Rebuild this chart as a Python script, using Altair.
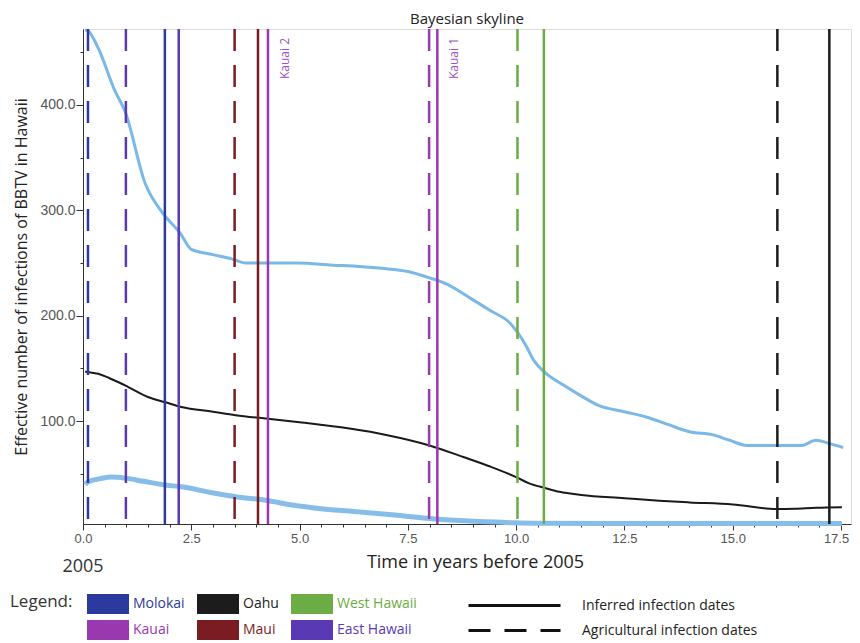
import altair as alt
import pandas as pd

# ---- data ----
t_upper = [0.05, 0.12, 0.35, 0.74, 0.97, 1.44, 1.81, 2.25, 2.5, 3.0, 3.43, 3.76, 4.5, 5.0, 5.76, 6.3, 6.9,
           7.5, 8.0, 8.4, 8.93, 9.4, 9.86, 10.25, 10.4, 10.67, 11.1, 11.5, 11.9, 12.5, 13.0, 13.5, 14.0,
           14.55, 14.92, 15.33, 16.03, 16.6, 16.92, 17.22, 17.55]
v_upper = [471, 470, 454, 413, 394, 325, 299, 278, 263, 258, 254, 250, 250, 250, 248, 247, 245,
           242, 236, 230, 217, 205, 193, 170, 158, 146, 134, 124, 115, 109, 104, 97, 90,
           87, 82, 77, 77, 77, 82, 79, 75]

t_median = [0.05, 0.12, 0.35, 0.6, 0.97, 1.5, 1.9, 2.27, 3.0, 3.52, 4.22, 5.0, 6.15, 7.0, 8.0, 8.78,
            9.4, 10.0, 10.3, 10.67, 11.0, 11.5, 12.5, 13.3, 14.0, 15.0, 16.0, 16.43, 16.92, 17.52]
v_median = [147, 146.6, 145, 141, 134, 123, 118, 113.5, 109, 105.7, 102.5, 99, 93, 87, 77, 66,
            57, 47, 41, 36.6, 33, 30, 27, 24.6, 23, 21, 16.7, 17, 18, 18.5]

t_lower = [0.05, 0.12, 0.4, 0.65, 0.97, 1.4, 1.9, 2.27, 3.0, 3.52, 4.22, 4.83, 5.5, 6.38, 7.2, 7.93,
           8.8, 9.86, 10.5, 12.0, 14.0, 16.0, 17.52]
v_lower = [40, 42.6, 45.5, 47, 46, 43, 39.5, 37.8, 32, 28.4, 25, 20.5, 17, 14, 11, 8,
           5.5, 3.8, 3.2, 3, 3, 3, 3]

INF = "Inferred infection dates"
AGR = "Agricultural infection dates"
rule_t = [0.115, 0.99, 1.89, 2.21, 3.50, 4.04, 4.27, 7.99, 8.18, 10.03, 10.64, 16.03, 17.23]
rule_island = ["Molokai", "East Hawaii", "Molokai", "East Hawaii", "Maui", "Maui", "Kauai",
               "Kauai", "Kauai", "West Hawaii", "West Hawaii", "Oahu", "Oahu"]
rule_type = [AGR, AGR, INF, INF, AGR, INF, INF, AGR, INF, AGR, INF, AGR, INF]

islands = ["Molokai", "Oahu", "West Hawaii", "Kauai", "Maui", "East Hawaii"]
island_colors = ["#2b3a9c", "#1c1c1c", "#6cac44", "#9a38b0", "#7a1c22", "#5a3ab4"]
types = [INF, AGR]

kauai_label_t = [4.67, 8.57]
kauai_label_text = ["Kauai 2", "Kauai 1"]

year_label = ["2005"]
x_tick_values = [i * 0.5 for i in range(36)]
y_tick_values = [50, 100, 150, 200, 250, 300, 350, 400, 450]

W, H = 768, 495
FONT = "Open Sans"

df_up = pd.DataFrame({"t": t_upper, "v": v_upper})
df_med = pd.DataFrame({"t": t_median, "v": v_median})
df_low = pd.DataFrame({"t": t_lower, "v": v_lower})
df_rules = pd.DataFrame({"t": rule_t, "island": rule_island, "type": rule_type})
df_kauai = pd.DataFrame({"t": kauai_label_t, "label": kauai_label_text})
df_year = pd.DataFrame({"t": [0.0], "label": year_label})

xscale = alt.Scale(domain=[0, 17.73], nice=False, zero=False)
yscale = alt.Scale(domain=[2.5, 472], nice=False, zero=False)

xaxis = alt.Axis(
    values=x_tick_values, tickCount=60,
    labelExpr="datum.value % 2.5 === 0 ? format(datum.value, '.1f') : ''",
    tickSize={"condition": {"test": "datum.value % 2.5 === 0", "value": 6}, "value": 3},
    labelOffset={"condition": {"test": "datum.value === 17.5", "value": -5}, "value": 0},
    title="Time in years before 2005", grid=False, labelOverlap=False,
    labelFont="Liberation Sans", labelFontSize=13, labelColor="#555", labelPadding=2,
    titleFont=FONT, titleFontSize=18, titleFontWeight="normal", titleColor="#222", titlePadding=8,
    titleX=392, titleAlign="center",
    domainColor="#333", tickColor="#333", labelFlush=False,
)
yaxis = alt.Axis(
    values=y_tick_values, tickCount=30,
    labelExpr="datum.value % 100 === 0 ? format(datum.value, '.1f') : ''",
    tickSize={"condition": {"test": "datum.value % 100 === 0", "value": 7}, "value": 3},
    title="Effective number of infections of BBTV in Hawaii", grid=False, labelOverlap=False,
    labelFont="Liberation Sans", labelFontSize=14, labelColor="#555", labelPadding=1,
    titleFont=FONT, titleFontSize=16, titleFontWeight="normal", titleColor="#222", titlePadding=10,
    domainColor="#333", tickColor="#333",
)

upper = alt.Chart(df_up).mark_line(color="#7ab8e8", strokeWidth=3, interpolate="monotone").encode(
    x=alt.X("t:Q", scale=xscale, axis=xaxis), y=alt.Y("v:Q", scale=yscale, axis=yaxis))
median = alt.Chart(df_med).mark_line(color="#1a1a1a", strokeWidth=2, interpolate="monotone").encode(
    x="t:Q", y="v:Q")
lower = alt.Chart(df_low).mark_line(color="#86bde9", strokeWidth=5, interpolate="monotone").encode(
    x="t:Q", y="v:Q")

color_legend = alt.Legend(
    orient="none", legendX=-73, legendY=565, direction="horizontal", columns=3,
    title="Legend:", titleOrient="left", titleFont=FONT, titleFontSize=17, titleFontWeight="normal",
    titleColor="#333", titlePadding=14, titleAnchor="start", titleBaseline="top",
    symbolType="M-2.1,-1H2.1V1H-2.1Z", symbolSize=400, symbolStrokeWidth=0, symbolOffset=11,
    symbolFillColor=alt.ExprRef(expr="scale('color', datum.value)"),
    labelColor=alt.ExprRef(expr="scale('color', datum.value)"),
    labelFont=FONT, labelFontSize=14, labelOffset=15, columnPadding=12, rowPadding=6,
)
dash_legend = alt.Legend(
    orient="none", legendX=384, legendY=565, title=None,
    symbolType="M-4.6,0H4.6", symbolSize=400, symbolStrokeWidth=3, symbolStrokeColor="#111",
    symbolOffset=36, labelFont=FONT, labelFontSize=14, labelColor="#222", labelOffset=56,
    labelLimit=400, rowPadding=6,
)

rules = alt.Chart(df_rules).mark_rule(strokeWidth=2.5).encode(
    x="t:Q",
    color=alt.Color("island:N", scale=alt.Scale(domain=islands, range=island_colors), legend=color_legend),
    strokeDash=alt.StrokeDash("type:N", scale=alt.Scale(domain=types, range=[[1, 0], [22, 14]]),
                              legend=dash_legend),
)

kauai = alt.Chart(df_kauai).mark_text(angle=270, align="right", baseline="middle", fontSize=12,
                                      font=FONT, color="#a050c0").encode(
    x="t:Q", y=alt.value(9), text="label:N")

year = alt.Chart(df_year).mark_text(align="center", baseline="middle", fontSize=18, font=FONT,
                                    color="#333").encode(
    x="t:Q", y=alt.value(H + 43), text="label:N")

chart = alt.layer(upper, lower, median, rules, kauai, year).properties(
    width=W, height=H,
    title=alt.TitleParams("Bayesian skyline", fontSize=15, fontWeight="normal", font=FONT,
                          color="#222", offset=-3),
    autosize=alt.AutoSizeParams(type="none"),
    padding={"left": 75, "top": 21, "right": 1, "bottom": 116},
).configure_view(stroke="#555", strokeWidth=1).configure(background="white")

chart.save("out.html", embed_options={"renderer": "svg", "actions": False})
